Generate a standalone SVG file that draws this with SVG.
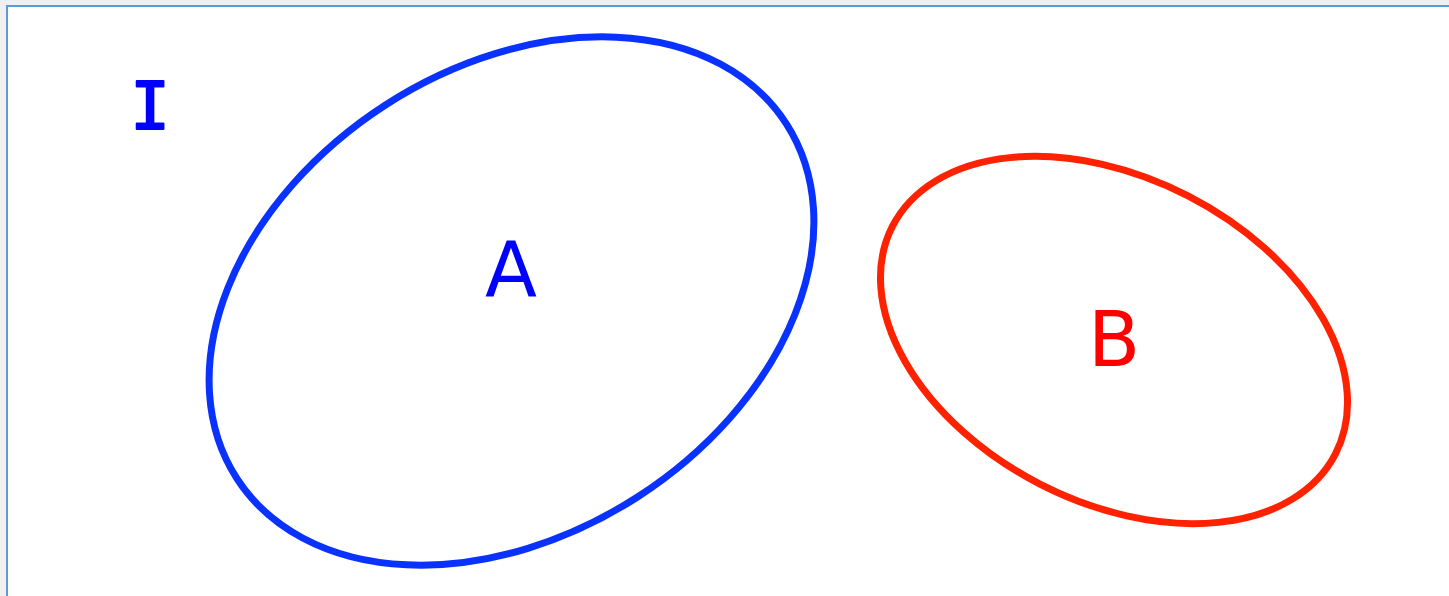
<svg xmlns="http://www.w3.org/2000/svg" width="1449" height="596" viewBox="0 0 1449 596">
<style>
.set{fill:none;stroke-width:7}
.lbl{font-family:"DejaVu Sans","Noto Sans",sans-serif;font-size:76px;text-anchor:middle}
</style>
<rect x="0" y="0" width="1449" height="596" fill="#f0f0f0"/>
<rect x="7" y="6" width="1460" height="610" fill="#ffffff" stroke="#5b9bd5" stroke-width="2"/>
<g id="universe">
<text x="150" y="129" font-family="DejaVu Sans Mono,Liberation Mono,monospace" font-size="66" fill="#0000ff" stroke="#0000ff" stroke-width="2" stroke-linejoin="round" text-anchor="middle">I</text>
</g>
<g id="setA">
<ellipse class="set" cx="511.5" cy="301" rx="327" ry="233" transform="rotate(-32.85 511.5 301)" stroke="#0a32ff"/>
<text class="lbl" x="511" y="296" fill="#0000ff">A</text>
</g>
<g id="setB">
<ellipse class="set" cx="1114" cy="340" rx="249" ry="162" transform="rotate(27.2 1114 340)" stroke="#ff2200"/>
<text class="lbl" x="1114" y="366" fill="#ff0000" font-size="80">B</text>
</g>
<g id="connectors"></g>
</svg>
